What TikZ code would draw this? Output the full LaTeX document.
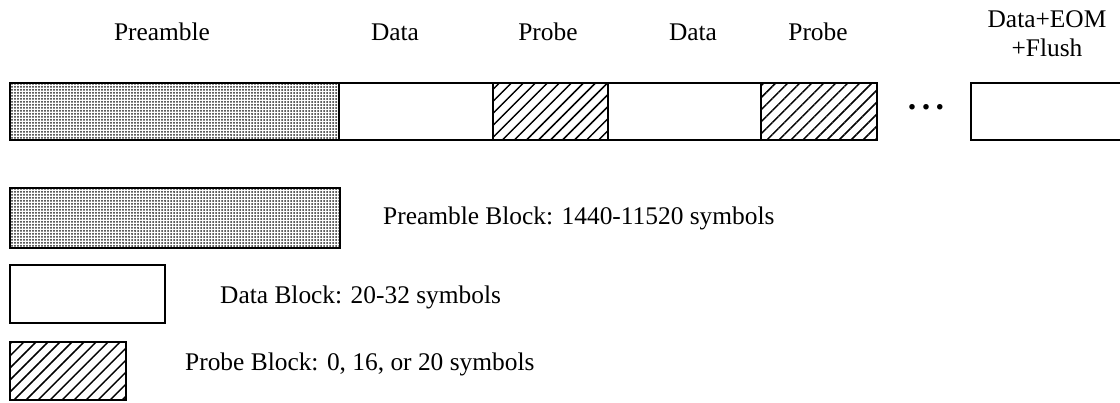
\documentclass[tikz,border=0pt]{standalone}
\usepackage{fontspec}
\setmainfont{Liberation Serif}
\usetikzlibrary{patterns.meta}

\begin{document}
\begin{tikzpicture}[x=1pt, y=-1pt, font=\fontsize{25.4}{29}\selectfont,
		blk/.style={rectangle, draw=black, line width=2.6pt, inner sep=0pt, minimum height=57pt},
		pre/.style={blk, pattern={Dots[distance=3pt, radius=1pt]}, pattern color=black!85},
		data/.style={blk, fill=white},
		probe/.style={blk, pattern={Lines[angle=45, distance=8.5pt, line width=1.5pt]}},
		lbl/.style={anchor=base, inner sep=0pt}]
		\useasboundingbox[fill=white] (0,0) rectangle (1120,402);
		% frame layout
		\node[pre, minimum width=329pt] (1) at (174.5,111.5) {};
		\node[data, minimum width=154pt] (2) at (416,111.5) {};
		\node[probe, minimum width=115pt] (3) at (550.5,111.5) {};
		\node[data, minimum width=153pt] (4) at (684.5,111.5) {};
		\node[probe, minimum width=116pt] (5) at (819,111.5) {};
		\node[data, minimum width=164pt] (6) at (1053,111.5) {};
		\node[anchor=base, inner sep=0pt, font=\fontsize{34}{38}\selectfont\bfseries] (7) at (926,109.5) {.\hspace{0.16em}.\hspace{0.16em}.};
		% labels above the frame
		\node[lbl] (8) at (162,40) {Preamble};
		\node[lbl] (9) at (395,40) {Data};
		\node[lbl] (10) at (548,40) {Probe};
		\node[lbl] (11) at (693,40) {Data};
		\node[lbl] (12) at (818,40) {Probe};
		\node[lbl, align=center] (13) at (1047,56) {Data+EOM\\+Flush};
		% legend
		\node[pre, minimum width=330pt, minimum height=60pt] (14) at (175,218) {};
		\node[data, minimum width=155pt, minimum height=58pt] (15) at (87.5,294) {};
		\node[probe, minimum width=116pt, minimum height=58pt] (16) at (68,371) {};
		\node[lbl, anchor=base west] (17) at (383,224) {Preamble Block: 1440-11520 symbols};
		\node[lbl, anchor=base west] (18) at (220,303) {Data Block: 20-32 symbols};
		\node[lbl, anchor=base west] (19) at (185,370) {Probe Block: 0, 16, or 20 symbols};
	\end{tikzpicture}
\end{document}
